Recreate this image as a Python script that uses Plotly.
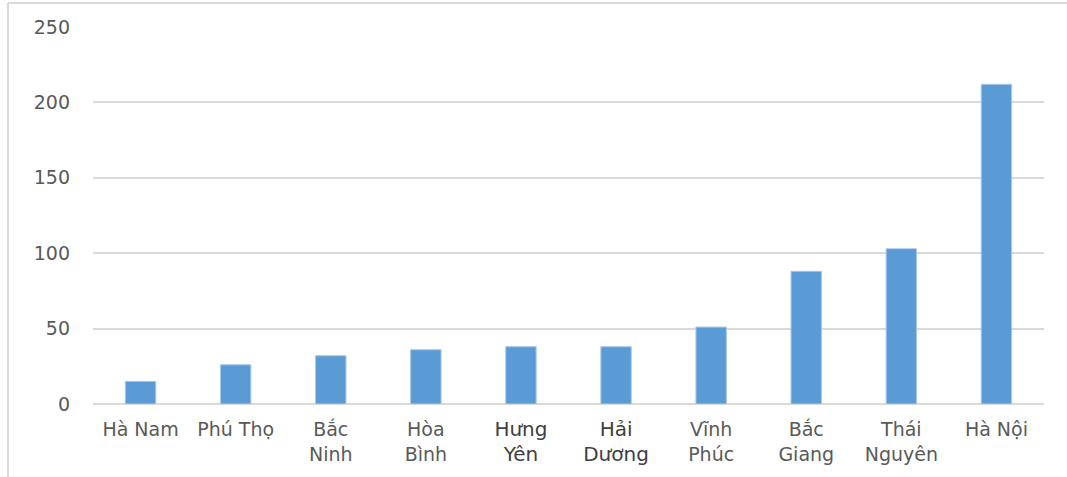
import plotly.graph_objects as go

# Provinces (x categories), shown with line breaks under the axis
provinces = ["Hà Nam", "Phú Thọ", "Bắc Ninh", "Hòa Bình", "Hưng Yên",
             "Hải Dương", "Vĩnh Phúc", "Bắc Giang", "Thái Nguyên", "Hà Nội"]
tick_labels = ["Hà Nam", "Phú Thọ", "Bắc<br>Ninh", "Hòa<br>Bình", "Hưng<br>Yên",
               "Hải<br>Dương", "Vĩnh<br>Phúc", "Bắc<br>Giang", "Thái<br>Nguyên", "Hà Nội"]
values = [15, 26, 32, 36, 38, 38, 51, 88, 103, 212]
y_ticks = [0, 50, 100, 150, 200, 250]

# two labels are set in a slightly heavier, darker face
emphasised = {"Hưng Yên", "Hải Dương"}


def styled(name, label):
    if name in emphasised:
        return '<span style="font-size:20px;color:#404040">' + label + "</span>"
    return label


W, H = 1067, 477
ML, MR, MT, MB = 93, 23, 27, 73
pw, ph = W - ML - MR, H - MT - MB

fig = go.Figure(
    go.Bar(
        x=provinces,
        y=values,
        width=0.32,
        marker=dict(color="#5b9bd5", line=dict(color="#a8c9ec", width=1)),
    )
)

fig.update_layout(
    width=W,
    height=H,
    margin=dict(l=ML, r=MR, t=MT, b=MB, pad=0),
    paper_bgcolor="white",
    plot_bgcolor="white",
    showlegend=False,
    font=dict(family="DejaVu Sans", size=19, color="#595959"),
    xaxis=dict(
        tickmode="array",
        tickvals=provinces,
        ticktext=[styled(n, l) for n, l in zip(provinces, tick_labels)],
        showgrid=False,
        showline=False,
        ticks="",
        ticklabelstandoff=12,
        tickfont=dict(size=19, color="#595959"),
    ),
    yaxis=dict(
        range=[0, 250],
        tickvals=y_ticks,
        showgrid=True,
        gridcolor="#d9d9d9",
        gridwidth=2,
        zeroline=True,
        zerolinecolor="#d9d9d9",
        zerolinewidth=2,
        showline=False,
        ticks="",
        ticklabelstandoff=22,
        tickfont=dict(size=19, color="#595959"),
    ),
)

# Light frame around the chart area (left and top edges visible)
x0 = (8 - ML) / pw
y1 = 1 + (MT - 3) / ph
fig.add_shape(type="line", xref="paper", yref="paper",
              x0=x0, x1=x0, y0=-(MB + 5) / ph, y1=y1,
              line=dict(color="#d9d9d9", width=2))
fig.add_shape(type="line", xref="paper", yref="paper",
              x0=x0, x1=1 + (MR + 5) / pw, y0=y1, y1=y1,
              line=dict(color="#d9d9d9", width=2))

fig.write_html("out.html")
